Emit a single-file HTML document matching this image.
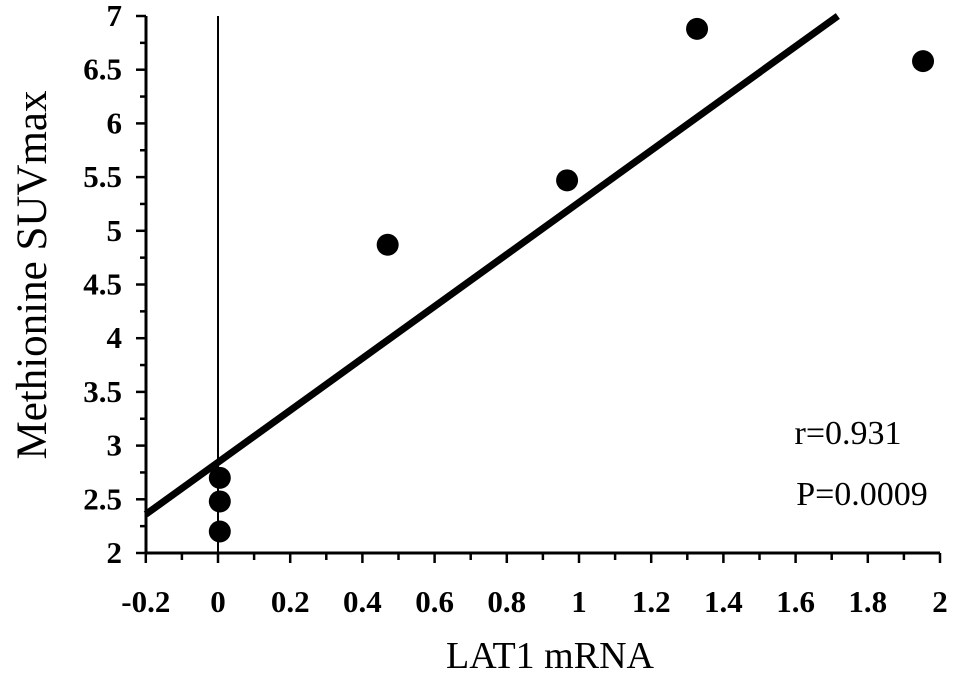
<!DOCTYPE html>
<html><head><meta charset="utf-8"><style>
body{margin:0;background:#fff}
svg{display:block;font-family:"Liberation Serif",serif}
</style></head><body>
<svg id="chart" width="969" height="679" viewBox="0 0 969 679" xmlns="http://www.w3.org/2000/svg"></svg>
<script>
const xTicks=[-0.2,0,0.2,0.4,0.6,0.8,1,1.2,1.4,1.6,1.8,2];
const xTickLabels=["-0.2","0","0.2","0.4","0.6","0.8","1","1.2","1.4","1.6","1.8","2"];
const yTicks=[2,2.5,3,3.5,4,4.5,5,5.5,6,6.5,7];
const yTickLabels=["2","2.5","3","3.5","4","4.5","5","5.5","6","6.5","7"];
const pointsX=[0.005,0.005,0.005,0.47,0.967,1.327,1.953];
const pointsY=[2.2,2.48,2.7,4.87,5.47,6.88,6.58];
const fitX=[-0.2,1.717];
const fitY=[2.36,7.0];
const svg=document.getElementById('chart');
const NS='http://www.w3.org/2000/svg';
const X=v=>218+(v)*361;
const Y=v=>553-(v-2)*107.4;
function mk(tag,attrs,parent){const e=document.createElementNS(NS,tag);for(const k in attrs)e.setAttribute(k,attrs[k]);(parent||svg).appendChild(e);return e;}
let e;
e=mk('line',{x1:146,y1:Y(7),x2:146,y2:553,stroke:'#000','stroke-width':3});


e=mk('line',{x1:146,y1:553,x2:X(2),y2:553,stroke:'#000','stroke-width':3});


e=mk('line',{x1:X(0),y1:Y(7),x2:X(0),y2:553,stroke:'#000','stroke-width':2});


for(let i=0;i<yTicks.length;i++){
 const y=Y(yTicks[i]);
 e=mk('line',{x1:136,y1:y,x2:146,y2:y,stroke:'#000','stroke-width':2.5});
 
 
 if(i<yTicks.length-1){
  e=mk('line',{x1:140,y1:Y(yTicks[i]+0.25),x2:146,y2:Y(yTicks[i]+0.25),stroke:'#000','stroke-width':2.5});
  
  
 }
 e=mk('text',{x:122,y:y+10,'text-anchor':'end','font-size':31,'font-weight':'bold'});
 e.textContent=yTickLabels[i];
 
 
}
for(let i=0;i<xTicks.length;i++){
 const x=X(xTicks[i]);
 e=mk('line',{x1:x,y1:553,x2:x,y2:563,stroke:'#000','stroke-width':2.5});
 
 
 if(i<xTicks.length-1){
  e=mk('line',{x1:X(xTicks[i]+0.1),y1:553,x2:X(xTicks[i]+0.1),y2:560,stroke:'#000','stroke-width':2.5});
  
  
 }
 e=mk('text',{x:x,y:612,'text-anchor':'middle','font-size':31,'font-weight':'bold'});
 e.textContent=xTickLabels[i];
 
 
}
e=mk('line',{x1:X(fitX[0]),y1:Y(fitY[0]),x2:X(fitX[1]),y2:Y(fitY[1]),stroke:'#000','stroke-width':7});


for(let i=0;i<pointsX.length;i++){
 e=mk('circle',{cx:X(pointsX[i]),cy:Y(pointsY[i]),r:11,fill:'#000'});
 
 
}
e=mk('text',{x:550,y:668,'text-anchor':'middle','font-size':38});
e.textContent='LAT1 mRNA';


e=mk('text',{x:0,y:0,'text-anchor':'middle','font-size':43,transform:'translate(46,275) rotate(-90)'});
e.textContent='Methionine SUVmax';


e=mk('text',{x:848,y:444,'text-anchor':'middle','font-size':34});
e.textContent='r=0.931';


e=mk('text',{x:862,y:505,'text-anchor':'middle','font-size':34});
e.textContent='P=0.0009';


</script>
</body></html>
